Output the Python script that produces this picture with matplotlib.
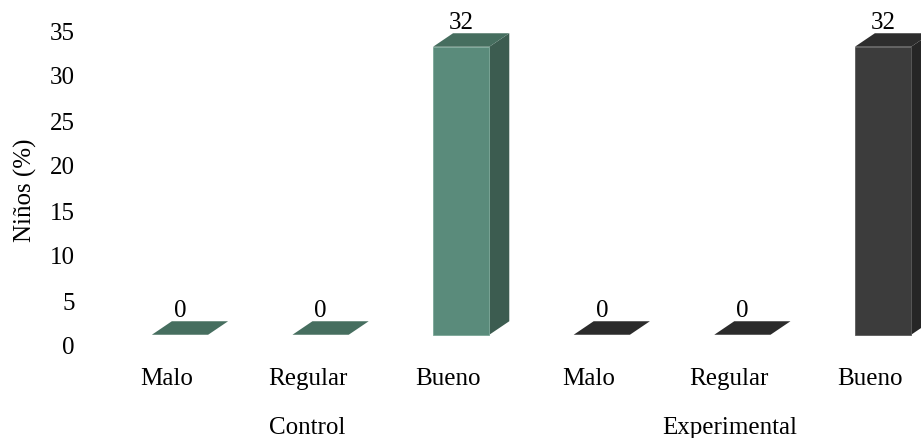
import matplotlib
matplotlib.use("Agg")
import matplotlib.pyplot as plt
from matplotlib.patches import Polygon
from matplotlib.transforms import blended_transform_factory

plt.rcParams["font.family"] = ["Liberation Serif", "DejaVu Serif"]

# datos
groups = ["Control", "Experimental"]
categories = ["Malo", "Regular", "Bueno"]
control = [0, 0, 32]
experimental = [0, 0, 32]
yticks = [0, 5, 10, 15, 20, 25, 30, 35]

# colores (frente, arriba, lado)
colors = {
    "Control": ("#5a8b7b", "#466e5f", "#3c5c50"),
    "Experimental": ("#3c3c3c", "#2d2d2d", "#262626"),
}
FS = 18

W, H = 921, 438
fig = plt.figure(figsize=(W / 100, H / 100), dpi=100)
# eje: x pixel 90..921, y pixel 22..355
ax = fig.add_axes([90 / W, 1 - 355 / H, 1 - 90 / W, (355 - 22) / H])
px_per_cat = 140.6
ax.set_xlim((90 - 180) / px_per_cat, (921 - 180) / px_per_cat)
ax.set_ylim(-1, 36)

base = 1.25   # piso 3D
w = 0.4       # ancho frente
dx, dy = 0.142, 1.5  # profundidad

values = control + experimental
xs = list(range(len(values)))
for i, v in enumerate(values):
    g = groups[i // 3]
    front, top, side = colors[g]
    x = xs[i]
    if v > 0:
        ax.bar(x, v, width=w, bottom=base, color=front, edgecolor="#7aa797" if g == "Control" else "#5a5a5a",
               linewidth=0.6, zorder=3)
        ax.add_patch(Polygon([(x + w / 2, base), (x + w / 2 + dx, base + dy),
                              (x + w / 2 + dx, base + v + dy), (x + w / 2, base + v)],
                             closed=True, facecolor=side, edgecolor="none", zorder=2))
    flat = top if v > 0 else ("#466e5f" if g == "Control" else "#2b2b2b")
    ax.add_patch(Polygon([(x - w / 2, base + v), (x + w / 2, base + v),
                          (x + w / 2 + dx, base + v + dy), (x - w / 2 + dx, base + v + dy)],
                         closed=True, facecolor=flat, edgecolor="none", zorder=4))
    ax.text(x, base + v + dy + 0.45, f"{v}", ha="center", va="baseline", fontsize=FS, zorder=5)

for s in ax.spines.values():
    s.set_visible(False)
ax.set_yticks(yticks)
ax.tick_params(axis="y", length=0, pad=11, labelsize=FS)
ax.set_xticks([])

tr = blended_transform_factory(ax.transData, fig.transFigure)
for i, x in enumerate(xs):
    ax.text(x - 0.0925, 1 - 385 / H, categories[i % 3], transform=tr,
            ha="center", va="baseline", fontsize=FS)
for j, g in enumerate(groups):
    ax.text(j * 3 + 1 - 0.0925, 1 - 434 / H, g, transform=tr,
            ha="center", va="baseline", fontsize=FS)

fig.text(25 / W, 1 - 190 / H, "Niños (%)", rotation=90, ha="center", va="center", fontsize=FS)

fig.savefig("out.png", dpi=100)
